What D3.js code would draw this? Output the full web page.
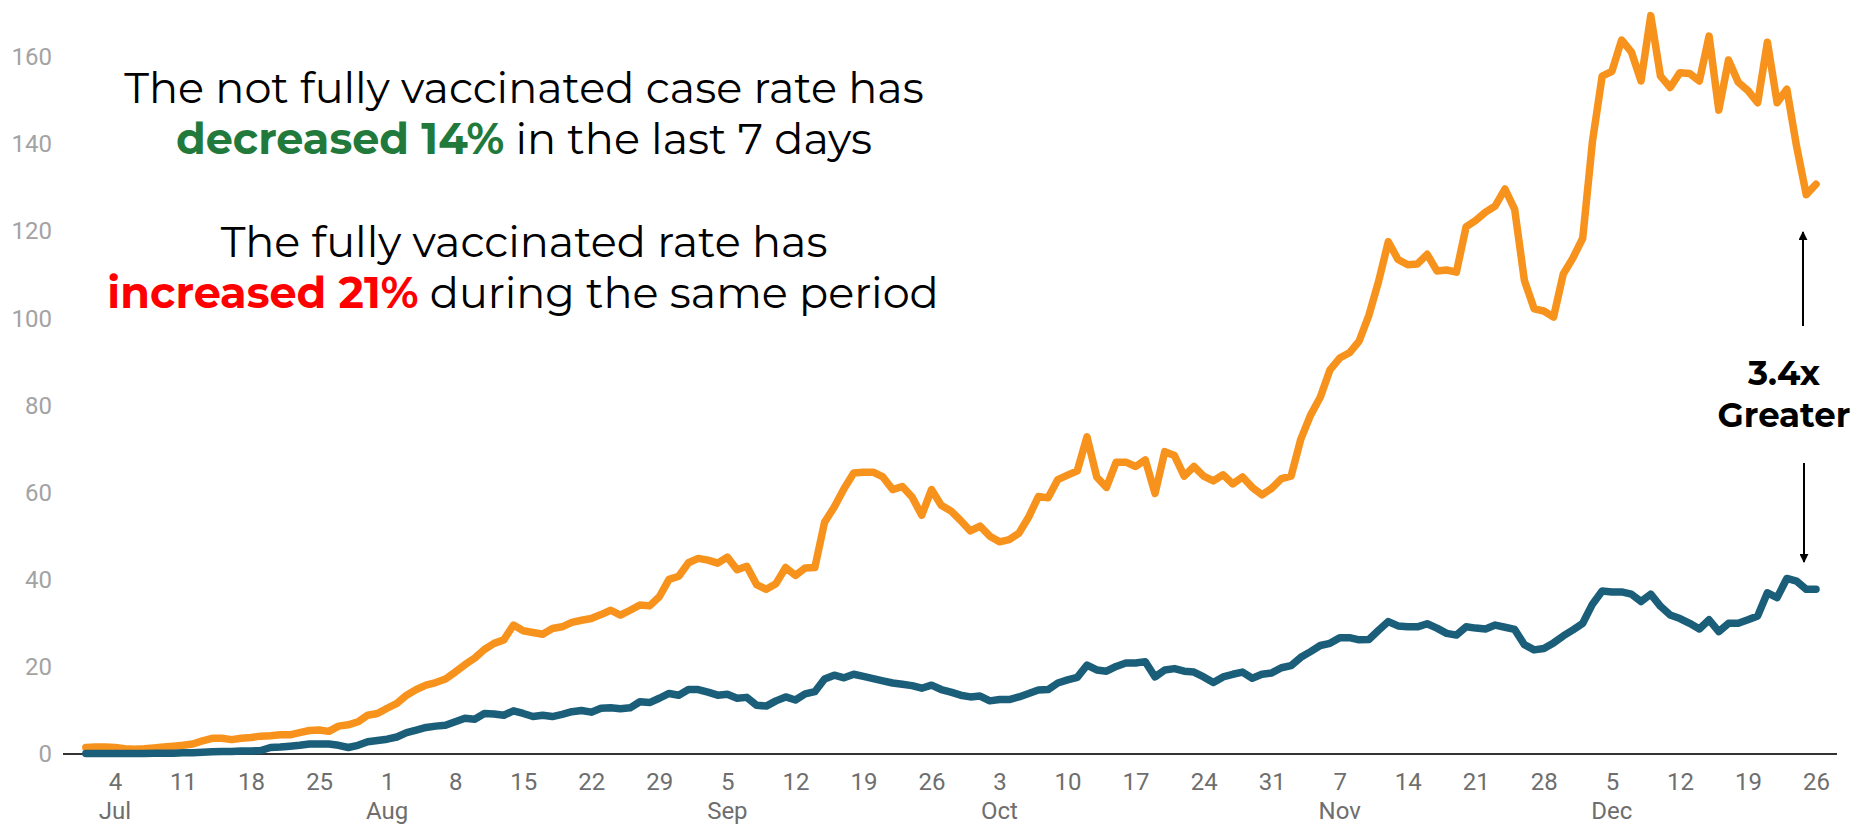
<html>
<head>
<script src="https://d3js.org/d3.v7.min.js"></script>
<style>
  body { margin: 0; background: #fff; }
</style>
</head>
<body>
<script>
// daily case rates, starting 1 Jul 2021
var startDate = "2021-07-01";

var notFullyVaccinated = [
  1.5, 1.6, 1.6, 1.5, 1.2, 1.1, 1.2, 1.4, 1.6, 1.8, 2.0, 2.3, 3.0, 3.6, 3.6, 3.3, 3.6, 3.8, 4.1, 4.2,
  4.4, 4.4, 4.9, 5.4, 5.5, 5.2, 6.4, 6.7, 7.4, 8.9, 9.3,
  10.5, 11.6, 13.5, 14.8, 15.8, 16.4, 17.2, 18.8, 20.5, 22.0, 24.0, 25.4, 26.2, 29.6, 28.3, 27.9, 27.5,
  28.8, 29.2, 30.2, 30.7, 31.1, 32.0, 33.0, 31.9, 33.0, 34.2, 34.0, 36.1, 40.1, 40.8,
  43.9, 44.9, 44.5, 43.8, 45.2, 42.3, 43.1, 38.9, 37.8, 39.1, 42.8, 41.0, 42.7, 42.8, 53.2, 56.7, 60.9,
  64.5, 64.7, 64.7, 63.6, 60.7, 61.4, 59.0, 54.8, 60.7, 57.1, 55.8, 53.6, 51.2,
  52.3, 50.0, 48.7, 49.2, 50.7, 54.4, 59.1, 58.8, 63.0, 64.0, 65.0, 72.8, 63.6, 61.2, 67.0, 67.0, 66.0,
  67.5, 59.8, 69.4, 68.5, 63.8, 66.0, 63.8, 62.7, 64.1, 62.0, 63.6, 61.2, 59.5, 61.0,
  63.2, 63.8, 72.3, 77.8, 81.9, 88.2, 90.9, 92.1, 94.8, 100.7, 108.5, 117.6, 113.5, 112.3, 112.5, 114.7,
  110.9, 111.1, 110.6, 121.0, 122.5, 124.4, 125.8, 129.7, 125.0, 108.7, 102.2, 101.7, 100.3, 110.2,
  113.9, 118.4, 140.6, 155.6, 156.7, 163.9, 161.2, 154.5, 169.5, 155.6, 153.0, 156.4, 156.2, 154.5,
  164.8, 147.8, 159.3, 154.2, 152.3, 149.5, 163.4, 149.5, 152.6, 139.5, 128.4, 130.8
];

var fullyVaccinated = [
  0.1, 0.1, 0.1, 0.1, 0.1, 0.1, 0.1, 0.2, 0.2, 0.2, 0.3, 0.3, 0.4, 0.5, 0.6, 0.6, 0.7, 0.7, 0.8, 1.5,
  1.6, 1.8, 2.0, 2.3, 2.3, 2.3, 2.0, 1.5, 2.0, 2.8, 3.1,
  3.4, 3.9, 4.9, 5.5, 6.1, 6.4, 6.6, 7.4, 8.2, 8.0, 9.3, 9.2, 8.9, 9.9, 9.3, 8.6, 8.9,
  8.6, 9.1, 9.7, 10.0, 9.6, 10.5, 10.6, 10.4, 10.6, 12.0, 11.8, 12.8, 13.9, 13.5,
  14.8, 14.8, 14.2, 13.5, 13.7, 12.8, 13.0, 11.2, 11.0, 12.2, 13.1, 12.4, 13.8, 14.3, 17.2, 18.1, 17.5,
  18.3, 17.8, 17.3, 16.8, 16.3, 16.0, 15.7, 15.1, 15.8, 14.8, 14.2, 13.5, 13.1,
  13.3, 12.2, 12.5, 12.5, 13.1, 13.9, 14.7, 14.8, 16.3, 17.0, 17.6, 20.4, 19.3, 19.0, 20.1, 20.9, 20.9,
  21.2, 17.7, 19.3, 19.6, 19.0, 18.8, 17.7, 16.4, 17.7, 18.3, 18.8, 17.4, 18.3, 18.6,
  19.8, 20.3, 22.2, 23.5, 24.9, 25.4, 26.7, 26.7, 26.2, 26.3, 28.4, 30.4, 29.4, 29.2, 29.2, 29.9,
  28.9, 27.7, 27.3, 29.2, 28.9, 28.7, 29.6, 29.1, 28.6, 25.1, 23.9, 24.2, 25.5, 27.1,
  28.5, 30.0, 34.4, 37.4, 37.2, 37.2, 36.7, 35.0, 36.7, 33.9, 31.9, 31.1, 30.0, 28.7,
  30.8, 28.1, 30.0, 30.0, 30.8, 31.7, 37.0, 35.9, 40.3, 39.7, 37.8, 37.8
];

var yTicks = [0, 20, 40, 60, 80, 100, 120, 140, 160];

var weekTicks = [
  "2021-07-04", "2021-07-11", "2021-07-18", "2021-07-25", "2021-08-01", "2021-08-08", "2021-08-15",
  "2021-08-22", "2021-08-29", "2021-09-05", "2021-09-12", "2021-09-19", "2021-09-26", "2021-10-03",
  "2021-10-10", "2021-10-17", "2021-10-24", "2021-10-31", "2021-11-07", "2021-11-14", "2021-11-21",
  "2021-11-28", "2021-12-05", "2021-12-12", "2021-12-19", "2021-12-26"
];
var monthTicks = ["2021-07-04", "2021-08-01", "2021-09-05", "2021-10-03", "2021-11-07", "2021-12-05"];
var monthNames = ["Jul", "Aug", "Sep", "Oct", "Nov", "Dec"];

var parse = d3.utcParse("%Y-%m-%d");
var start = parse(startDate);
var headFont = "Montserrat, 'Open Sans', sans-serif";

var svg = d3.select("body").append("svg")
  .attr("width", 1855)
  .attr("height", 825);

var x = d3.scaleUtc()
  .domain([parse(weekTicks[0]), parse(weekTicks[weekTicks.length - 1])])
  .range([115, 1816]);
var y = d3.scaleLinear().domain([0, 160]).range([754, 57]);

// baseline
svg.append("line")
  .attr("x1", 63).attr("x2", 1837)
  .attr("y1", y(0)).attr("y2", y(0))
  .attr("stroke", "#333").attr("stroke-width", 2);

// y axis labels
var yAxis = svg.append("g")
  .attr("transform", "translate(63,0)")
  .call(d3.axisLeft(y).tickValues(yTicks).tickSize(0).tickPadding(11));
yAxis.select(".domain").remove();
yAxis.selectAll("text")
  .attr("font-family", "Roboto, sans-serif")
  .attr("font-size", 24)
  .attr("fill", "#a3a3a3");

// x axis labels
var xAxis = svg.append("g")
  .attr("transform", "translate(0," + y(0) + ")")
  .call(d3.axisBottom(x).tickValues(weekTicks.map(parse))
    .tickFormat(d3.utcFormat("%-d")).tickSize(0).tickPadding(19));
xAxis.select(".domain").remove();
xAxis.selectAll("text")
  .attr("font-family", "Roboto, sans-serif")
  .attr("font-size", 24)
  .attr("fill", "#6e6e6e");

svg.append("g").selectAll("text")
  .data(monthTicks)
  .enter().append("text")
  .attr("x", function(d) { return x(parse(d)); })
  .attr("y", 819)
  .attr("text-anchor", "middle")
  .attr("font-family", "Roboto, sans-serif")
  .attr("font-size", 24)
  .attr("fill", "#6e6e6e")
  .text(function(d, i) { return monthNames[i]; });

// lines
var line = d3.line()
  .x(function(d, i) { return x(d3.utcDay.offset(start, i)); })
  .y(function(d) { return y(d); });

svg.append("path")
  .datum(notFullyVaccinated)
  .attr("d", line)
  .attr("fill", "none")
  .attr("stroke", "#f7931d")
  .attr("stroke-width", 7.5)
  .attr("stroke-linejoin", "round")
  .attr("stroke-linecap", "round");

svg.append("path")
  .datum(fullyVaccinated)
  .attr("d", line)
  .attr("fill", "none")
  .attr("stroke", "#1b5e79")
  .attr("stroke-width", 7.5)
  .attr("stroke-linejoin", "round")
  .attr("stroke-linecap", "round");

// headline text
var ann = svg.append("g")
  .attr("font-family", headFont)
  .attr("font-size", 43)
  .attr("text-anchor", "middle");

ann.append("text").attr("x", 524).attr("y", 103)
  .text("The not fully vaccinated case rate has");
var l2 = ann.append("text").attr("x", 524).attr("y", 154);
l2.append("tspan").attr("font-weight", "bold").attr("fill", "#217a3c").text("decreased 14%");
l2.append("tspan").text(" in the last 7 days");

ann.append("text").attr("x", 524).attr("y", 257)
  .text("The fully vaccinated rate has");
var l4 = ann.append("text").attr("x", 523).attr("y", 308);
l4.append("tspan").attr("font-weight", "bold").attr("fill", "#ff0000").text("increased 21%");
l4.append("tspan").text(" during the same period");

// ratio callout
svg.append("defs").append("marker")
  .attr("id", "head")
  .attr("viewBox", "0 0 10 10")
  .attr("refX", 9).attr("refY", 5)
  .attr("markerWidth", 4.5).attr("markerHeight", 4.5)
  .attr("orient", "auto")
  .append("path").attr("d", "M0,0 L10,5 L0,10 z").attr("fill", "#000");

svg.append("line")
  .attr("x1", 1803).attr("x2", 1803).attr("y1", 326).attr("y2", 232)
  .attr("stroke", "#000").attr("stroke-width", 2).attr("marker-end", "url(#head)");
svg.append("line")
  .attr("x1", 1804).attr("x2", 1804).attr("y1", 463).attr("y2", 562)
  .attr("stroke", "#000").attr("stroke-width", 2).attr("marker-end", "url(#head)");

var call = svg.append("g")
  .attr("font-family", headFont)
  .attr("font-weight", "bold")
  .attr("font-size", 34)
  .attr("text-anchor", "middle");
call.append("text").attr("x", 1784).attr("y", 385).text("3.4x");
call.append("text").attr("x", 1784).attr("y", 427).text("Greater");
</script>
</body>
</html>
